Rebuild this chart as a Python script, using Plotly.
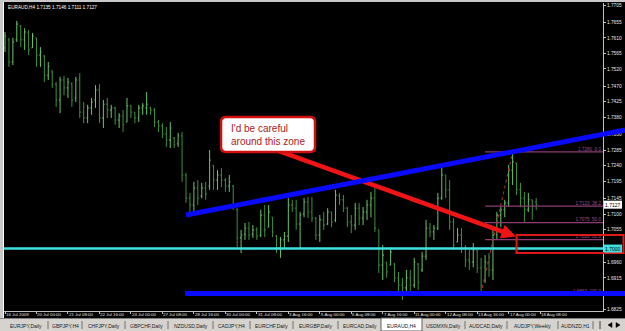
import plotly.graph_objects as go

# ---------------- data ----------------
symbol = "EURAUD,H4"
opens = [1.7581, 1.7604, 1.7540, 1.7604, 1.7644, 1.7604, 1.7624, 1.7581, 1.7610, 1.7560,
         1.7557, 1.7502, 1.7511, 1.7476, 1.7430, 1.7488, 1.7465, 1.7476, 1.7436, 1.7488,
         1.7395, 1.7378, 1.7407, 1.7430, 1.7459, 1.7378, 1.7418, 1.7401, 1.7407, 1.7372,
         1.7384, 1.7366, 1.7413, 1.7395, 1.7378, 1.7407, 1.7407, 1.7407, 1.7401, 1.7366,
         1.7355, 1.7332, 1.7314, 1.7320, 1.7303, 1.7326, 1.7213, 1.7146, 1.7126, 1.7175,
         1.7152, 1.7175, 1.7181, 1.7240, 1.7198, 1.7213, 1.7198, 1.7181, 1.7181, 1.7112,
         1.7031, 1.7042, 1.7059, 1.7042, 1.7054, 1.7039, 1.7097, 1.7062, 1.7091, 1.7036,
         1.7002, 1.7025, 1.7036, 1.7126, 1.7117, 1.7071, 1.7100, 1.7135, 1.7106, 1.7088,
         1.7039, 1.7083, 1.7071, 1.7106, 1.7083, 1.7152, 1.7141, 1.7117, 1.7077, 1.7068,
         1.7117, 1.7088, 1.7106, 1.7126, 1.7146, 1.7054, 1.6952, 1.6961, 1.6952, 1.6955,
         1.6915, 1.6894, 1.6886, 1.6915, 1.6894, 1.6955, 1.6938, 1.6978, 1.7059, 1.7048,
         1.7059, 1.7146, 1.7213, 1.7170, 1.7077, 1.7019, 1.7039, 1.7002, 1.6967, 1.6961,
         1.6996, 1.6944, 1.6909, 1.6961, 1.6938, 1.7039, 1.7097, 1.7112, 1.7132, 1.7227,
         1.7248, 1.7170, 1.7146, 1.7112, 1.7141, 1.7135]
highs = [1.7627, 1.7610, 1.7610, 1.7659, 1.7647, 1.7638, 1.7633, 1.7624, 1.7610, 1.7583,
         1.7560, 1.7540, 1.7517, 1.7482, 1.7497, 1.7500, 1.7494, 1.7482, 1.7497, 1.7508,
         1.7424, 1.7416, 1.7436, 1.7473, 1.7476, 1.7430, 1.7436, 1.7416, 1.7410, 1.7392,
         1.7401, 1.7436, 1.7416, 1.7395, 1.7416, 1.7421, 1.7453, 1.7410, 1.7407, 1.7372,
         1.7363, 1.7352, 1.7366, 1.7323, 1.7335, 1.7337, 1.7219, 1.7161, 1.7193, 1.7198,
         1.7190, 1.7193, 1.7285, 1.7242, 1.7227, 1.7233, 1.7204, 1.7213, 1.7184, 1.7117,
         1.7054, 1.7074, 1.7077, 1.7068, 1.7062, 1.7112, 1.7126, 1.7126, 1.7091, 1.7039,
         1.7033, 1.7048, 1.7146, 1.7141, 1.7141, 1.7106, 1.7146, 1.7149, 1.7149, 1.7091,
         1.7097, 1.7106, 1.7117, 1.7106, 1.7170, 1.7161, 1.7155, 1.7120, 1.7097, 1.7132,
         1.7132, 1.7120, 1.7141, 1.7164, 1.7175, 1.7054, 1.7010, 1.6961, 1.7004, 1.6958,
         1.6932, 1.6915, 1.6938, 1.6938, 1.6973, 1.6958, 1.6990, 1.7083, 1.7074, 1.7068,
         1.7161, 1.7233, 1.7213, 1.7198, 1.7088, 1.7059, 1.7059, 1.7010, 1.6996, 1.7016,
         1.6996, 1.6973, 1.6981, 1.6987, 1.7054, 1.7106, 1.7120, 1.7141, 1.7242, 1.7280,
         1.7248, 1.7190, 1.7164, 1.7161, 1.7141, 1.7146]
lows = [1.7569, 1.7526, 1.7531, 1.7598, 1.7583, 1.7575, 1.7560, 1.7581, 1.7526, 1.7526,
        1.7482, 1.7488, 1.7465, 1.7410, 1.7392, 1.7444, 1.7436, 1.7410, 1.7424, 1.7378,
        1.7363, 1.7363, 1.7387, 1.7407, 1.7363, 1.7349, 1.7378, 1.7378, 1.7358, 1.7349,
        1.7337, 1.7366, 1.7378, 1.7363, 1.7366, 1.7387, 1.7387, 1.7387, 1.7352, 1.7337,
        1.7320, 1.7294, 1.7291, 1.7291, 1.7294, 1.7193, 1.7132, 1.7103, 1.7106, 1.7126,
        1.7146, 1.7141, 1.7170, 1.7170, 1.7170, 1.7178, 1.7164, 1.7164, 1.7112, 1.7004,
        1.6987, 1.7025, 1.7025, 1.7031, 1.7025, 1.7033, 1.7033, 1.7062, 1.7033, 1.6987,
        1.6973, 1.7002, 1.7019, 1.7106, 1.7054, 1.7002, 1.7091, 1.7088, 1.7077, 1.7025,
        1.7019, 1.7054, 1.7068, 1.7062, 1.7077, 1.7126, 1.7106, 1.7062, 1.7045, 1.7054,
        1.7068, 1.7068, 1.7083, 1.7091, 1.7048, 1.6929, 1.6909, 1.6915, 1.6952, 1.6903,
        1.6874, 1.6851, 1.6871, 1.6874, 1.6886, 1.6880, 1.6932, 1.6967, 1.7033, 1.7025,
        1.7054, 1.7141, 1.7146, 1.7054, 1.6996, 1.7019, 1.6987, 1.6946, 1.6938, 1.6946,
        1.6929, 1.6869, 1.6900, 1.6918, 1.6909, 1.7025, 1.7062, 1.7091, 1.7120, 1.7184,
        1.7155, 1.7120, 1.7077, 1.7106, 1.7083, 1.7111]
closes = [1.7615, 1.7540, 1.7598, 1.7650, 1.7604, 1.7627, 1.7575, 1.7615, 1.7560, 1.7569,
          1.7502, 1.7528, 1.7476, 1.7430, 1.7488, 1.7465, 1.7482, 1.7430, 1.7488, 1.7395,
          1.7378, 1.7407, 1.7424, 1.7459, 1.7378, 1.7418, 1.7401, 1.7407, 1.7372, 1.7384,
          1.7358, 1.7413, 1.7395, 1.7378, 1.7407, 1.7413, 1.7418, 1.7401, 1.7366, 1.7355,
          1.7332, 1.7314, 1.7349, 1.7300, 1.7326, 1.7213, 1.7146, 1.7126, 1.7175, 1.7146,
          1.7175, 1.7158, 1.7256, 1.7198, 1.7213, 1.7198, 1.7181, 1.7193, 1.7126, 1.7031,
          1.7039, 1.7059, 1.7039, 1.7054, 1.7036, 1.7097, 1.7054, 1.7106, 1.7048, 1.7002,
          1.7025, 1.7036, 1.7126, 1.7117, 1.7071, 1.7097, 1.7135, 1.7106, 1.7088, 1.7039,
          1.7083, 1.7068, 1.7106, 1.7077, 1.7155, 1.7141, 1.7117, 1.7077, 1.7068, 1.7117,
          1.7088, 1.7106, 1.7126, 1.7146, 1.7059, 1.6952, 1.6981, 1.6932, 1.6990, 1.6915,
          1.6894, 1.6886, 1.6915, 1.6894, 1.6961, 1.6903, 1.6978, 1.7059, 1.7048, 1.7059,
          1.7146, 1.7213, 1.7170, 1.7077, 1.7010, 1.7039, 1.7002, 1.6967, 1.6961, 1.6996,
          1.6944, 1.6894, 1.6961, 1.6938, 1.7039, 1.7097, 1.7112, 1.7132, 1.7227, 1.7251,
          1.7170, 1.7146, 1.7112, 1.7141, 1.7126, 1.7127]

time_labels = ["16 Jul 2009", "20 Jul 00:00", "21 Jul 08:00", "22 Jul 16:00", "24 Jul 00:00",
               "27 Jul 08:00", "28 Jul 16:00", "30 Jul 00:00", "31 Jul 08:00", "3 Aug 16:00",
               "5 Aug 00:00", "6 Aug 08:00", "7 Aug 16:00", "11 Aug 00:00", "12 Aug 08:00",
               "13 Aug 16:00", "17 Aug 00:00", "18 Aug 08:00"]
time_label_bars = [0, 8, 16, 24, 32, 40, 48, 56, 64, 72, 80, 88, 96, 104, 112, 120, 128, 136]

price_ticks = [1.7705, 1.7655, 1.7610, 1.7565, 1.7520, 1.7470, 1.7425, 1.7380, 1.7330, 1.7285,
               1.7240, 1.7195, 1.7145, 1.7100, 1.7055, 1.7010, 1.6960, 1.6915, 1.6870, 1.6825]

fib_levels = ["0.0", "38.2", "50.0", "61.8", "100.0"]
fib_prices = [1.7280, 1.7123, 1.7075, 1.7026, 1.6869]
fib_bars = [121, 129]            # swing low bar, swing high bar
trend_upper = [(46, 1.7097), (129, 1.7280)]
support_start, support_price = 46, 1.6870
level_price = 1.7000
zone_bar, zone_top, zone_bottom = 130, 1.7039, 1.6987
arrow_tail = (66, 1.7297)
arrow_tip = (129.6, 1.7036)
callout_lines = ["I'd be careful", "around this zone"]

tabs = ["EURJPY,Daily", "GBPJPY,H4", "CHFJPY,Daily", "GBPCHF,Daily", "NZDUSD,Daily", "CADJPY,H4",
        "EURCHF,Daily", "EURGBP,Daily", "EURCAD,Daily", "EURAUD,H4", "USDMXN,Daily",
        "AUDCAD,Daily", "AUDJPY,Weekly", "AUDNZD,H1"]
active_tab = "EURAUD,H4"

# ---------------- geometry ----------------
W, H = 625, 331
ML, MR, MT, MB = 4, 22, 3, 20
PW, PH = W - ML - MR, H - MT - MB
X0, X1 = -0.254, 151.97
Y0, Y1 = 1.68192, 1.77108


def xpx(i):
    return ML + (i - X0) / (X1 - X0) * PW


def ypx(p):
    return MT + (Y1 - p) / (Y1 - Y0) * PH


def pxp(x):
    return (x - ML) / PW


def pyp(y):
    return (H - MB - y) / PH


def px_to_idx(x):
    return X0 + (x - ML) / PW * (X1 - X0)


idx = list(range(len(opens)))
FONT = "Liberation Sans, Arial, sans-serif"

fig = go.Figure()
fig.add_trace(go.Ohlc(
    x=idx, open=opens, high=highs, low=lows, close=closes,
    increasing=dict(line=dict(color="#6cc46c", width=1)),
    decreasing=dict(line=dict(color="#3f8f3f", width=1)),
    tickwidth=0.3, hoverinfo="skip"))

# fib level labels as a text trace (so the drawn lines can cover them, as in MT4)
fig.add_trace(go.Scatter(
    x=[px_to_idx(601)] * len(fib_prices), y=fib_prices, mode="text",
    text=[f"{p:.4f}  {l}" for p, l in zip(fib_prices, fib_levels)],
    textposition="top left", textfont=dict(family=FONT, size=4.6, color="#9a4f84"),
    hoverinfo="skip", cliponaxis=False))

shapes = []
annotations = []

# window frame
shapes.append(dict(type="rect", xref="paper", yref="paper", x0=pxp(0), x1=pxp(3), y0=pyp(331), y1=pyp(0),
                   fillcolor="#c8c8c8", line=dict(width=0), layer="above"))
shapes.append(dict(type="line", xref="paper", yref="paper", x0=pxp(3.5), x1=pxp(3.5), y0=pyp(318), y1=pyp(0),
                   line=dict(color="#ffffff", width=1)))
shapes.append(dict(type="rect", xref="paper", yref="paper", x0=pxp(0), x1=pxp(625), y0=pyp(2), y1=pyp(0),
                   fillcolor="#c8c8c8", line=dict(width=0)))

# fibonacci levels
fib_x0 = pxp(xpx(fib_bars[0] + 1))
for lev, pr in zip(fib_levels, fib_prices):
    yy = pyp(ypx(pr))
    shapes.append(dict(type="line", xref="paper", yref="paper", x0=fib_x0, x1=1, y0=yy, y1=yy,
                       line=dict(color="#8b3d73", width=1.2)))
shapes.append(dict(type="line", xref="paper", yref="paper",
                   x0=pxp(xpx(fib_bars[0])), y0=pyp(ypx(fib_prices[-1])),
                   x1=pxp(xpx(fib_bars[1])), y1=pyp(ypx(fib_prices[0])),
                   line=dict(color="#b03030", width=1, dash="dot")))

# cyan level
yl = pyp(ypx(level_price))
shapes.append(dict(type="line", xref="paper", yref="paper", x0=0, x1=1, y0=yl, y1=yl,
                   line=dict(color="#3fe0e0", width=2.5)))

# red arrow
tx, ty = xpx(arrow_tail[0]), ypx(arrow_tail[1])
hx, hy = xpx(arrow_tip[0]), ypx(arrow_tip[1])
dx, dy = hx - tx, hy - ty
ln = (dx * dx + dy * dy) ** 0.5
ux, uy = dx / ln, dy / ln
hl, hw = 13, 6.5
bx, by = hx - ux * hl, hy - uy * hl
shapes.append(dict(type="line", xref="paper", yref="paper", x0=pxp(tx), y0=pyp(ty),
                   x1=pxp(bx + ux * 2), y1=pyp(by + uy * 2), line=dict(color="#f01414", width=4.5)))
pts = [(hx, hy), (bx - uy * hw, by + ux * hw), (bx + uy * hw, by - ux * hw)]
path = "M " + " L ".join(f"{pxp(a):.5f},{pyp(b):.5f}" for a, b in pts) + " Z"
shapes.append(dict(type="path", xref="paper", yref="paper", path=path, fillcolor="#f01414",
                   line=dict(color="#f01414", width=1)))

# red zone box
shapes.append(dict(type="rect", xref="paper", yref="paper", x0=pxp(xpx(zone_bar)), x1=pxp(623.5),
                   y0=pyp(ypx(zone_bottom)), y1=pyp(ypx(zone_top)),
                   line=dict(color="#e01818", width=2), fillcolor="rgba(0,0,0,0)"))

# blue trend lines
(a_i, a_p), (b_i, b_p) = trend_upper
ax_, ay_ = xpx(a_i), ypx(a_p)
bx_, by_ = xpx(b_i), ypx(b_p)
slope = (by_ - ay_) / (bx_ - ax_)
ex = 625
ey = ay_ + slope * (ex - ax_)
shapes.append(dict(type="line", xref="paper", yref="paper", x0=pxp(ax_), y0=pyp(ay_), x1=pxp(ex), y1=pyp(ey),
                   line=dict(color="#0a0aff", width=5)))
ys = pyp(ypx(support_price))
shapes.append(dict(type="line", xref="paper", yref="paper", x0=pxp(xpx(support_start) - 1), y0=ys,
                   x1=pxp(625), y1=ys, line=dict(color="#0a0aff", width=5)))

# callout rounded box
cx0, cx1, cy0, cy1, r = 221, 315, 117, 152, 5
pts = (f"M {pxp(cx0 + r)},{pyp(cy0)} L {pxp(cx1 - r)},{pyp(cy0)} Q {pxp(cx1)},{pyp(cy0)} {pxp(cx1)},{pyp(cy0 + r)} "
       f"L {pxp(cx1)},{pyp(cy1 - r)} Q {pxp(cx1)},{pyp(cy1)} {pxp(cx1 - r)},{pyp(cy1)} "
       f"L {pxp(cx0 + r)},{pyp(cy1)} Q {pxp(cx0)},{pyp(cy1)} {pxp(cx0)},{pyp(cy1 - r)} "
       f"L {pxp(cx0)},{pyp(cy0 + r)} Q {pxp(cx0)},{pyp(cy0)} {pxp(cx0 + r)},{pyp(cy0)} Z")
shapes.append(dict(type="path", xref="paper", yref="paper", path=pts, fillcolor="#ffffff",
                   line=dict(color="#d01010", width=2.5)))
for k, t in enumerate(callout_lines):
    annotations.append(dict(xref="paper", yref="paper", x=pxp(229), y=pyp(128 + 13 * k), text=t,
                            showarrow=False, xanchor="left", yanchor="middle",
                            font=dict(family=FONT, size=10, color="#b01818")))

# price label boxes on the axis
box_prices = [level_price, closes[-1]]
for pr, bg in zip(box_prices, ["#3fe0e0", "#ffffff"]):
    yc = ypx(pr)
    shapes.append(dict(type="rect", xref="paper", yref="paper", x0=pxp(604), x1=pxp(622),
                       y0=pyp(yc + 4), y1=pyp(yc - 4), fillcolor=bg, line=dict(width=0)))
    annotations.append(dict(xref="paper", yref="paper", x=pxp(613), y=pyp(yc), text=f"{pr:.4f}",
                            showarrow=False, xanchor="center", yanchor="middle",
                            font=dict(family=FONT, size=5, color="#000000")))

# tick labels hidden behind a price box are left blank
tick_text = []
for v in price_ticks:
    hidden = any(abs(ypx(v) - ypx(b)) < 6 for b in box_prices)
    tick_text.append("" if hidden else f"{v:.4f}")

# info line
annotations.append(dict(xref="paper", yref="paper", x=pxp(6), y=pyp(7),
                        text=f"{symbol} {opens[-1]:.4f} {highs[-1]:.4f} {lows[-1]:.4f} {closes[-1]:.4f}",
                        showarrow=False, xanchor="left", yanchor="middle",
                        font=dict(family=FONT, size=4.7, color="#ffffff")))

# time labels
for b, t in zip(time_label_bars, time_labels):
    annotations.append(dict(xref="x", yref="paper", x=b, y=pyp(315), text=t, showarrow=False,
                            xanchor="left", yanchor="middle", xshift=-1,
                            font=dict(family=FONT, size=4.4, color="#e0e0e0")))

# tab bar
shapes.append(dict(type="rect", xref="paper", yref="paper", x0=pxp(0), x1=pxp(625), y0=pyp(331), y1=pyp(318.5),
                   fillcolor="#d6d3ce", line=dict(width=0)))
shapes.append(dict(type="line", xref="paper", yref="paper", x0=pxp(0), x1=pxp(625), y0=pyp(318.5), y1=pyp(318.5),
                   line=dict(color="#808080", width=1)))
bounds = [4, 48, 82, 125, 168, 213, 250, 293, 338, 381, 422, 465, 507, 558, 593]
for k, t in enumerate(tabs):
    l, rr = bounds[k], bounds[k + 1]
    if t == active_tab:
        shapes.append(dict(type="rect", xref="paper", yref="paper", x0=pxp(l), x1=pxp(rr),
                           y0=pyp(331), y1=pyp(318), fillcolor="#ffffff", line=dict(color="#606060", width=1)))
    elif k > 0 and tabs[k - 1] != active_tab:
        shapes.append(dict(type="line", xref="paper", yref="paper", x0=pxp(l), x1=pxp(l),
                           y0=pyp(329), y1=pyp(321), line=dict(color="#707070", width=1)))
    annotations.append(dict(xref="paper", yref="paper", x=pxp((l + rr) / 2), y=pyp(325.5), text=t,
                            showarrow=False, xanchor="center", yanchor="middle",
                            font=dict(family=FONT, size=5, color="#202020")))
shapes.append(dict(type="line", xref="paper", yref="paper", x0=pxp(593), x1=pxp(593),
                   y0=pyp(329), y1=pyp(321), line=dict(color="#707070", width=1)))
shapes.append(dict(type="line", xref="paper", yref="paper", x0=pxp(600), x1=pxp(600),
                   y0=pyp(329), y1=pyp(321), line=dict(color="#404040", width=1)))
for cxx, dirn in [(610, -1), (618, 1)]:
    p = f"M {pxp(cxx + 2 * dirn)},{pyp(325)} L {pxp(cxx - 2 * dirn)},{pyp(322.5)} L {pxp(cxx - 2 * dirn)},{pyp(327.5)} Z"
    shapes.append(dict(type="path", xref="paper", yref="paper", path=p, fillcolor="#000000",
                       line=dict(color="#000000", width=0.5)))

fig.update_layout(
    width=W, height=H, margin=dict(l=ML, r=MR, t=MT, b=MB),
    paper_bgcolor="#000000", plot_bgcolor="#000000", showlegend=False,
    shapes=shapes, annotations=annotations,
    xaxis=dict(range=[X0, X1], showgrid=False, zeroline=False, showticklabels=False,
               tickvals=time_label_bars, ticks="outside", ticklen=2, tickcolor="#c0c0c0",
               showline=True, linecolor="#c0c0c0", linewidth=1, rangeslider=dict(visible=False),
               fixedrange=True),
    yaxis=dict(range=[Y0, Y1], side="right", showgrid=False, zeroline=False,
               tickvals=price_ticks, ticktext=tick_text,
               ticks="outside", ticklen=2, tickcolor="#c0c0c0",
               tickfont=dict(family=FONT, size=4.8, color="#e8e8e8"),
               showline=True, linecolor="#c0c0c0", linewidth=1, fixedrange=True),
)

fig.write_html("out.html")
